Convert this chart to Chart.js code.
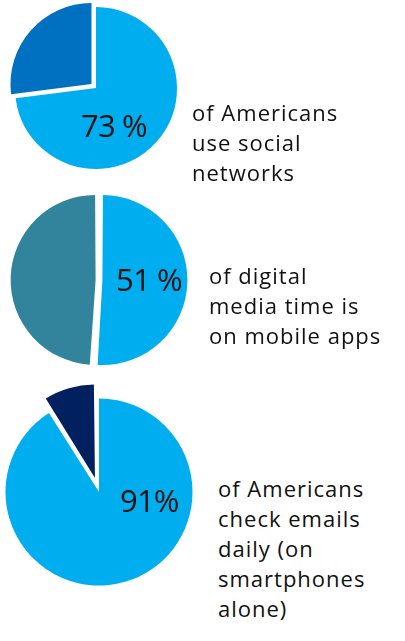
<!DOCTYPE html>
<html>
<head>
<meta charset="utf-8">
<script src="https://cdn.jsdelivr.net/npm/chart.js@4.4.0/dist/chart.umd.min.js"></script>
<style>
  html, body { margin: 0; padding: 0; background: #fff; }
  body {
    width: 405px;
    height: 641px;
    position: relative;
    overflow: hidden;
    font-family: "Open Sans", Lato, sans-serif;
    color: #111;
  }
  canvas { position: absolute; }
  .pct { position: absolute; font-size: 31px; line-height: 31px; font-weight: 500; white-space: nowrap; letter-spacing: -0.8px; }
  .caption { position: absolute; font-size: 22px; line-height: 30px; white-space: nowrap; letter-spacing: 1px; }
</style>
</head>
<body>
<script>
// values
const shares = [73, 51, 91];
const rest = [27, 49, 9];
const pctLabels = ["73 %", "51 %", "91%"];
const captions = [
  ["of Americans", "use social", "networks"],
  ["of digital", "media time is", "on mobile apps"],
  ["of Americans", "check emails", "daily (on", "smartphones", "alone)"]
];

const mainColor = "#00AEEF";
const restColors = ["#0070C0", "#31849B", "#002060"];

// where each pie sits on the page (center, radius, slice pull-out in px)
const layout = [
  { cx: 96, cy: 88, r: 81, pull: [0, 6], pct: [81, 137], cap: [192, 120] },
  { cx: 99, cy: 280, r: 85, pull: [3.4, 3.4], pct: [116, 291], cap: [209, 283] },
  { cx: 99, cy: 492, r: 93.5, pull: [0, 14.5], pct: [120, 512], cap: [218, 496] }
];

const SIZE = 220;

// chart.js grows pulled-out slices a bit, keep them on the dataset radius
const keepRadius = {
  id: "keepRadius",
  beforeDatasetDraw(chart, args) {
    const R = args.meta.controller.outerRadius;
    args.meta.data.forEach(arc => {
      const off = (arc.options.offset || 0) / 4;
      const circ = arc.endAngle - arc.startAngle;
      const fix = 1 - Math.sin(Math.min(Math.PI, circ));
      arc.outerRadius = R - off * fix;
    });
  }
};

shares.forEach((share, i) => {
  const l = layout[i];

  let canvas = document.createElement("canvas");
  canvas.width = SIZE;
  canvas.height = SIZE;
  canvas.style.left = (l.cx - SIZE / 2) + "px";
  canvas.style.top = (l.cy - SIZE / 2) + "px";
  document.body.appendChild(canvas);

  new Chart(canvas, {
    type: "pie",
    data: {
      labels: ["share", "rest"],
      datasets: [
        {
          data: [share, rest[i]],
          backgroundColor: [mainColor, restColors[i]],
          borderWidth: 0,
          offset: [l.pull[0] * 4, l.pull[1] * 4]
        }
      ]
    },
    options: {
      responsive: false,
      animation: false,
      radius: l.r,
      layout: { padding: 0 },
      plugins: {
        legend: { display: false },
        tooltip: { enabled: false }
      }
    },
    plugins: [keepRadius]
  });

  let pct = document.createElement("div");
  pct.className = "pct";
  pct.textContent = pctLabels[i];
  pct.style.left = l.pct[0] + "px";
  pct.style.top = (l.pct[1] - 27.5) + "px";
  document.body.appendChild(pct);

  let cap = document.createElement("div");
  cap.className = "caption";
  cap.innerHTML = captions[i].join("<br>");
  cap.style.left = l.cap[0] + "px";
  cap.style.top = (l.cap[1] - 23.5) + "px";
  document.body.appendChild(cap);
});
</script>
</body>
</html>
